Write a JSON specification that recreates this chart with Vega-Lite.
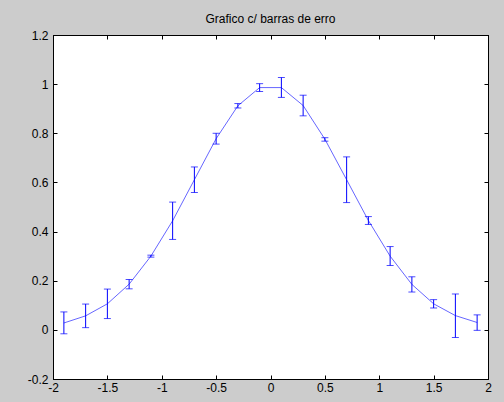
{
  "$schema": "https://vega.github.io/schema/vega-lite/v6.json",
  "autosize": "none",
  "width": 435,
  "height": 344,
  "padding": {"left": 53, "top": 35, "right": 16, "bottom": 23},
  "background": "#cccccc",
  "title": {"text": "Grafico c/ barras de erro", "font": "Liberation Sans", "fontSize": 12, "fontWeight": "normal", "color": "#000000", "offset": 3, "anchor": "middle"},
  "config": {
    "view": {"fill": "#ffffff", "stroke": "#000000", "strokeWidth": 1},
    "axis": {"domainColor": "#000000", "domainWidth": 1, "tickColor": "#000000", "tickSize": -4, "tickWidth": 1, "grid": false, "labelFont": "Liberation Sans", "labelFontSize": 12, "labelColor": "#000000", "title": null}
  },
  "data": {"values": [
    {"x": -1.9, "y": 0.028, "lo": -0.016, "hi": 0.073},
    {"x": -1.7, "y": 0.057, "lo": 0.009, "hi": 0.105},
    {"x": -1.5, "y": 0.106, "lo": 0.046, "hi": 0.166},
    {"x": -1.3, "y": 0.186, "lo": 0.167, "hi": 0.205},
    {"x": -1.1, "y": 0.300, "lo": 0.296, "hi": 0.304},
    {"x": -0.9, "y": 0.444, "lo": 0.368, "hi": 0.520},
    {"x": -0.7, "y": 0.611, "lo": 0.559, "hi": 0.663},
    {"x": -0.5, "y": 0.778, "lo": 0.756, "hi": 0.800},
    {"x": -0.3, "y": 0.912, "lo": 0.903, "hi": 0.921},
    {"x": -0.1, "y": 0.986, "lo": 0.970, "hi": 1.002},
    {"x": 0.1, "y": 0.986, "lo": 0.946, "hi": 1.027},
    {"x": 0.3, "y": 0.913, "lo": 0.871, "hi": 0.955},
    {"x": 0.5, "y": 0.776, "lo": 0.768, "hi": 0.782},
    {"x": 0.7, "y": 0.611, "lo": 0.518, "hi": 0.704},
    {"x": 0.9, "y": 0.445, "lo": 0.429, "hi": 0.461},
    {"x": 1.1, "y": 0.300, "lo": 0.262, "hi": 0.339},
    {"x": 1.3, "y": 0.185, "lo": 0.154, "hi": 0.216},
    {"x": 1.5, "y": 0.106, "lo": 0.089, "hi": 0.123},
    {"x": 1.7, "y": 0.058, "lo": -0.031, "hi": 0.146},
    {"x": 1.9, "y": 0.030, "lo": -0.002, "hi": 0.061}
  ]},
  "layer": [
    {
      "mark": {"type": "rule", "color": "#0000ff", "strokeWidth": 1},
      "encoding": {
        "x": {"field": "x", "type": "quantitative", "scale": {"domain": [-2, 2], "nice": false, "zero": false},
              "axis": {"orient": "bottom", "values": [-2, -1.5, -1, -0.5, 0, 0.5, 1, 1.5, 2], "format": "~g", "labelExpr": "replace(datum.label, '−', '-')", "labelPadding": 7, "labelFlush": false}},
        "y": {"field": "lo", "type": "quantitative", "scale": {"domain": [-0.2, 1.2], "nice": false, "zero": false},
              "axis": {"orient": "left", "values": [-0.2, 0, 0.2, 0.4, 0.6, 0.8, 1, 1.2], "format": "~g", "labelExpr": "replace(datum.label, '−', '-')", "labelPadding": 9, "labelFlush": false}},
        "y2": {"field": "hi"}
      }
    },
    {
      "mark": {"type": "tick", "orient": "horizontal", "color": "#0000ff", "size": 7, "thickness": 1},
      "encoding": {
        "x": {"field": "x", "type": "quantitative", "axis": null},
        "y": {"field": "lo", "type": "quantitative", "axis": null}
      }
    },
    {
      "mark": {"type": "tick", "orient": "horizontal", "color": "#0000ff", "size": 7, "thickness": 1},
      "encoding": {
        "x": {"field": "x", "type": "quantitative", "axis": null},
        "y": {"field": "hi", "type": "quantitative", "axis": null}
      }
    },
    {
      "mark": {"type": "line", "color": "#0000ff", "strokeWidth": 1, "opacity": 0.6},
      "encoding": {
        "x": {"field": "x", "type": "quantitative",
              "axis": {"orient": "top", "values": [-2, -1.5, -1, -0.5, 0, 0.5, 1, 1.5, 2], "labels": false}},
        "y": {"field": "y", "type": "quantitative",
              "axis": {"orient": "right", "values": [-0.2, 0, 0.2, 0.4, 0.6, 0.8, 1, 1.2], "labels": false}}
      }
    }
  ],
  "resolve": {"axis": {"x": "independent", "y": "independent"}}
}
